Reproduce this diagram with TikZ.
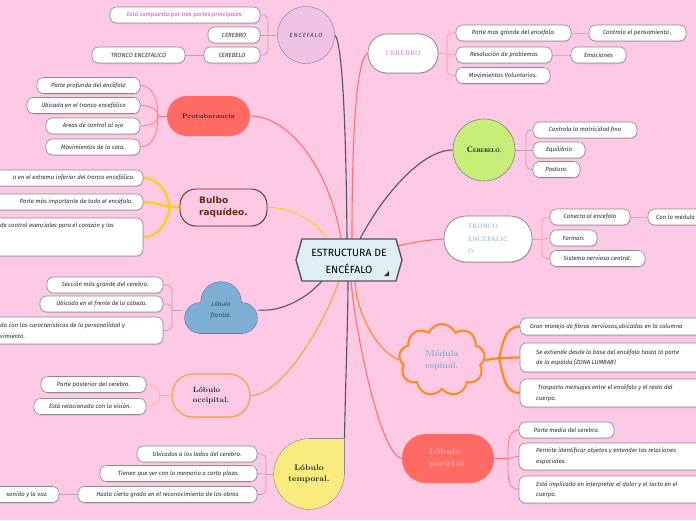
\documentclass[tikz,border=0pt]{standalone}
\usepackage{fontspec}
\usetikzlibrary{shapes.symbols,shadows,calc}
\newfontfamily\fira{Fira Sans}
\newfontfamily\libserif{Liberation Serif}
\newfontfamily\dejavu{DejaVu Sans}
\newcommand{\lfont}{\fira\itshape\fontsize{6}{10.5}\selectfont}
\definecolor{bg}{HTML}{FDC9E4}
\definecolor{leafgray}{HTML}{8E8A8C}
\definecolor{leaftext}{HTML}{2A2A2A}
\definecolor{encpurple}{HTML}{EEC3E6}
\definecolor{encmag}{HTML}{E33BC6}
\definecolor{grayline}{HTML}{BE9FB3}
\definecolor{darkline}{HTML}{555555}
\definecolor{coral}{HTML}{FF6B63}
\definecolor{coralline}{HTML}{FF7070}
\definecolor{lightcoral}{HTML}{FF9E9E}
\definecolor{yel}{HTML}{F8D11E}
\definecolor{orng}{HTML}{FF8A1C}
\definecolor{occorange}{HTML}{F8A233}
\definecolor{lightorange}{HTML}{FFB27A}
\definecolor{cbgreen}{HTML}{C8EE78}
\definecolor{bluefill}{HTML}{7DAFD5}
\definecolor{bluetext}{HTML}{7AAED6}
\definecolor{fronttext}{HTML}{2E4A60}
\definecolor{tempyellow}{HTML}{F9EB7D}
\definecolor{bulbbrown}{HTML}{5E2F10}
\definecolor{dkgreen}{HTML}{0D3B2A}
\definecolor{hubblue}{HTML}{DEEEF4}
\definecolor{hubgray}{HTML}{555555}
\definecolor{cerpurple}{HTML}{C879C8}
\definecolor{partext}{HTML}{F2A9A9}
\pgfdeclarelayer{back}
\pgfdeclarelayer{lines}
\pgfsetlayers{back,lines,main}
\begin{document}
\begin{tikzpicture}[x=1pt,y=-1pt,
  shad/.style={drop shadow={shadow xshift=0.4pt,shadow yshift=-1pt,opacity=0.25}},
  leaf/.style={draw=leafgray, fill=white, rounded corners=6.5pt, minimum height=16pt,
    inner xsep=4pt, inner ysep=0pt, font=\lfont, text=leaftext, line width=0.6pt, shad},
  ltext/.style={font=\lfont, text=leaftext, inner sep=0pt, align=left},
  encl/.style={draw=grayline, line width=0.7pt},
  corl/.style={draw=lightcoral, line width=0.8pt},
  protl/.style={draw=coralline, line width=0.7pt},
  yell/.style={draw=yel, line width=2.4pt},
  orl/.style={draw=orng, line width=2.2pt},
  occl/.style={draw=lightorange, line width=0.7pt},
  edge/.style={line width=1.1pt}
]
\begin{pgfonlayer}{back}
\fill[bg] (0,0) rectangle (696,520);
\end{pgfonlayer}
\useasboundingbox (0,0) rectangle (696,520);

% ---------- central node
\draw[fill=hubblue, draw=hubgray, line width=1.4pt, line join=round]
  (296,260) -- (302,239) -- (396,239) -- (402,260) -- (396,281) -- (302,281) -- cycle;
\node[minimum width=106pt, minimum height=42pt, align=center,
  font=\fira\fontsize{10.5}{17}\selectfont, text=black] (hub) at (349,261) {ESTRUCTURA DE\\ENCÉFALO};
\fill[black!80] (384,276) -- (389,276) -- (389,271) -- cycle;

\coordinate (hBul) at (327,239);
\coordinate (hPro) at (341,239);
\coordinate (hEnc) at (347,239);
\coordinate (hCer) at (352,239);
\coordinate (hCbl) at (360,239);
\coordinate (hTro) at (398,246);
\coordinate (hFro) at (322,281);
\coordinate (hOcc) at (339,281);
\coordinate (hTem) at (348,281);
\coordinate (hPar) at (351,281);
\coordinate (hMed) at (355,281);

% ---------- ENCEFALO
\node[circle, draw=gray, fill=encpurple, minimum size=57pt, inner sep=0pt,
  font=\fira\itshape\fontsize{6}{7}\selectfont\addfontfeatures{LetterSpace=15}, text=black!75] (enc) at (306,35) {ENCEFALO};
\node[leaf, minimum width=150pt, text=encmag] (e1) at (185,15) {Está compuesto por tres partes principales:};
\node[leaf, minimum width=52pt] (e2) at (234,35) {CEREBRO};
\node[leaf, minimum width=56pt] (e3) at (232,55) {CEREBELO};
\node[leaf, minimum width=93pt] (e4) at (138.5,55) {TRONCO ENCEFALICO};

% ---------- Protuberancia
\node[fill=coral, rounded corners=20pt, minimum width=83pt, minimum height=40pt,
  font=\bfseries\fontsize{6.5}{7}\selectfont, text=black!85] (prot) at (208.5,116) {Protuberancia};
\node[leaf, minimum width=103pt] (p1) at (88.5,85.5) {Parte profunda del encéfalo};
\node[leaf, minimum width=113pt] (p2) at (83.5,105.5) {Ubicada en el tronco encefálico};
\node[leaf, minimum width=94pt] (p3) at (93,126) {Areas de control al ojo};
\node[leaf, minimum width=94pt] (p4) at (93,147) {Movimientos de la cara.};

% ---------- Bulbo raquideo
\node[fill=bg, draw=bulbbrown, line width=0.9pt, rounded corners=16pt, minimum width=87pt, minimum height=37pt,
  font=\dejavu\bfseries\fontsize{9}{12}\selectfont, text=bulbbrown, align=left, shad] (bulbo) at (223.5,207.5) {Bulbo\\raquídeo.};
\node[leaf, minimum width=168pt] (b1) at (59,178) {};
\node[ltext, anchor=east] (b1t) at (135,178) {a en el extremo inferior del tronco encefálico.};
\node[leaf, minimum width=153pt] (b2) at (66.5,202) {};
\node[ltext, anchor=east] (b2t) at (133,202) {Parte más importante de todo el encéfalo.};
\node[leaf, minimum width=168pt, minimum height=38pt] (b3) at (59,237) {};
\node[ltext, anchor=west] (b3t) at (0,226) {de control esenciales para el corazón y los};

% ---------- Lobulo frontal (cloud)
\begin{scope}[draw=leafgray!80!blue, line width=1.2pt]
  \draw (200,318) circle[radius=15pt];
  \draw (221,302) circle[radius=20pt];
  \draw (242,318) circle[radius=15pt];
  \draw (200,310) rectangle (242,333);
\end{scope}
\begin{scope}[fill=bluefill]
  \fill (200,318) circle[radius=15pt];
  \fill (221,302) circle[radius=20pt];
  \fill (242,318) circle[radius=15pt];
  \fill (200,310) rectangle (242,333);
\end{scope}
\node[minimum width=75pt, minimum height=51pt, align=center,
  font=\fira\itshape\fontsize{6.3}{11.5}\selectfont, text=fronttext] (front) at (221,310) {Lóbulo\\frontal.};
\node[leaf, minimum width=116pt] (f1) at (105,285) {Sección más grande del cerebro.};
\node[leaf, minimum width=123pt] (f2) at (101.5,304) {Ubicada en el frente de la cabeza.};
\node[leaf, minimum width=188pt, minimum height=27pt] (f3) at (69,330.5) {};
\node[ltext, anchor=west] (f3t) at (0,330.5) {da con las características de la personalidad y\\vimiento.};

% ---------- Lobulo occipital
\node[fill=bg, draw=occorange, line width=1.1pt, rounded corners=21pt, minimum width=78pt, minimum height=43pt,
  font=\bfseries\fontsize{7.5}{10}\selectfont, text=dkgreen, align=left, shad] (occ) at (211,395.5) {Lóbulo\\occipital.};
\node[leaf, minimum width=105pt] (o1) at (93.5,384.5) {Parte posterior del cerebro.};
\node[leaf, minimum width=112pt] (o2) at (90,406.5) {Está relacionado con la visión.};

% ---------- Lobulo temporal (drop)
\begin{scope}[draw=leafgray, line width=1.1pt]
  \draw (309,474) circle[radius=35pt];
  \draw (309,439) rectangle (344,474);
\end{scope}
\begin{scope}[fill=tempyellow]
  \fill (309,474) circle[radius=35pt];
  \fill (309,439) rectangle (344,474);
\end{scope}
\node[circle, minimum size=70pt, inner sep=0pt, align=center,
  font=\bfseries\fontsize{8}{11}\selectfont, text=black!85] (temp) at (309,474) {Lóbulo\\temporal.};
\coordinate (tcorner) at (344.5,439);
\node[leaf, minimum width=120pt] (t1) at (197,454) {Ubicados a los lados del cerebro.};
\node[leaf, minimum width=157pt] (t2) at (178.5,473.5) {Tienen que ver con la memoria a corto plazo.};
\node[leaf, minimum width=179pt] (t3) at (167.5,494.5) {Hasta cierto grado en el reconocimiento de los obras};
\node[leaf, minimum width=84pt] (t4) at (17,494.5) {};
\node[ltext, anchor=east] (t4t) at (48,494.5) {sonido y la voz.};

% ---------- CEREBRO
\node[fill=white, draw=gray, line width=0.7pt, rounded corners=19pt, minimum width=70pt, minimum height=39pt,
  font=\libserif\fontsize{6.8}{7}\selectfont\addfontfeatures{LetterSpace=8}, text=cerpurple, shad] (cer) at (403,53.5) {CEREBRO};
\node[leaf, minimum width=115pt] (c1) at (513.5,33) {Parte mas grande del encefalo.};
\node[leaf, minimum width=97pt] (c1b) at (637.5,33) {Controla el pensamiento ,};
\node[leaf, minimum width=96pt] (c2) at (504,55) {Resolución de problemas};
\node[leaf, minimum width=55pt] (c2b) at (598.5,55) {Emociones};
\node[leaf, minimum width=94pt] (c3) at (503,75.5) {Movimientos Voluntarios.};

% ---------- Cerebelo
\node[circle, fill=cbgreen, draw=gray, line width=0.6pt, minimum size=62pt, inner sep=0pt, text=black!85]
  (cbl) at (484,150) {\libserif\bfseries\fontsize{8.5}{9}\selectfont C\fontsize{5.5}{6}\selectfont EREBELO.};
\node[leaf, minimum width=104pt] (g1) at (585,130) {Controla la motricidad fina};
\node[leaf, minimum width=52pt] (g2) at (559,150) {Equilibrio};
\node[leaf, minimum width=47pt] (g3) at (556.5,169.5) {Postura.};

% ---------- Tronco encefalico
\node[fill=white, draw=gray, line width=0.7pt, rounded corners=22pt, minimum width=88pt, minimum height=46pt,
  font=\libserif\fontsize{6.8}{12.5}\selectfont\addfontfeatures{LetterSpace=5}, text=bluetext, align=left, shad] (tronco) at (488,239) {TRONCO\\ENCEFALIC\\O};
\node[leaf, minimum width=80pt] (r1) at (590,217) {Conecta al encefalo};
\node[leaf, minimum width=82pt] (r1b) at (689,217) {};
\node[ltext, anchor=west] (r1bt) at (656,217) {Con la médula};
\node[leaf, minimum width=47pt] (r2) at (573.5,238) {Forman:};
\node[leaf, minimum width=95pt] (r3) at (597.5,258.5) {Sistema nervioso central.};

% ---------- Medula espinal
\node[cloud, cloud puffs=9, cloud puff arc=135, aspect=1.2, draw=orng, line width=2pt, fill=bg,
  minimum width=86pt, minimum height=72pt, inner sep=0pt, align=left,
  font=\bfseries\fontsize{8.5}{12}\selectfont, text=bluetext] (med) at (442,360) {Médula\\espinal.};
\node[leaf, minimum width=210pt, minimum height=17pt] (m1) at (625,326.5) {};
\node[ltext, anchor=west] (m1t) at (530,326.5) {Gran manejo de fibras nerviosas,ubicadas en la columna};
\node[leaf, minimum width=210pt, minimum height=29pt] (m2) at (625,357.5) {};
\node[ltext, anchor=west] (m2t) at (536,357.5) {Se extiende desde la base del encéfalo hasta la parte\\de la espalda.(ZONA LUMBAR)};
\node[leaf, minimum width=210pt, minimum height=28pt] (m3) at (625,393) {};
\node[ltext, anchor=west] (m3t) at (536,393) {\ Trasporta mensajes entre el encéfalo y el resto del\\cuerpo.};

% ---------- Lobulo parietal
\node[fill=coral, rounded corners=24pt, minimum width=92pt, minimum height=49pt, align=left,
  font=\bfseries\fontsize{8.8}{12}\selectfont, text=partext] (par) at (448,458.5) {Lóbulo\\parietal.};
\node[leaf, minimum width=95pt] (l1) at (566.5,430) {Parte media del cerebro.};
\node[leaf, minimum width=211pt, minimum height=27pt] (l2) at (624.5,456.5) {};
\node[ltext, anchor=west] (l2t) at (536,456.5) {Permite identificar objetos y entender las relaciones\\espaciales.};
\node[leaf, minimum width=211pt, minimum height=27pt] (l3) at (624.5,489.5) {};
\node[ltext, anchor=west] (l3t) at (536,489.5) {Está implicado en interpretar el dolor y el tacto en el\\cuerpo.};

% ================= connectors
\begin{pgfonlayer}{lines}
\draw[edge, darkline] (enc.east) .. controls (342,40) and (346,120) .. (hEnc);
\draw[edge, coralline] (cer.west) .. controls (355,60) and (352,150) .. (hCer);
\draw[edge, coralline] (prot.east) .. controls (290,116) and (330,170) .. (hPro);
\draw[edge, yel] (bulbo.east) .. controls (290,207) and (315,220) .. (hBul);
\draw[edge, darkline] (cbl.west) .. controls (420,150) and (380,200) .. (hCbl);
\draw[edge, coralline] (tronco.west) .. controls (425,240) and (410,243) .. (hTro);
\draw[edge, darkline] (front.east) .. controls (280,312) and (305,300) .. (hFro);
\draw[edge, occorange] (occ.east) .. controls (280,396) and (322,330) .. (hOcc);
\draw[edge, darkline] (tcorner) .. controls (345,400) and (348,320) .. (hTem);
\draw[edge, coralline] (par.west) .. controls (380,455) and (355,330) .. (hPar);
\draw[edge, orng] (med.west) .. controls (375,350) and (356,310) .. (hMed);

\coordinate (ej) at (268,35);
\draw[encl] (enc.west) -- (ej);
\draw[encl, rounded corners=5pt] (ej) |- (e1.east);
\draw[encl] (ej) -- (e2.east);
\draw[encl, rounded corners=5pt] (ej) |- (e3.east);
\draw[encl] (e3.west) -- (e4.east);

\coordinate (pj) at (158,116);
\draw[protl] (prot.west) -- (pj);
\draw[protl] (pj) to[out=90,in=0] (p1.east);
\draw[protl] (pj) to[out=90,in=0] (p2.east);
\draw[protl] (pj) to[out=-90,in=0] (p3.east);
\draw[protl] (pj) to[out=-90,in=0] (p4.east);

\coordinate (bj) at (170,207);
\draw[yell] (bulbo.west) -- (bj);
\draw[yell] (bj) to[out=100,in=0] (b1.east);
\draw[yell] (bj) to[out=170,in=0] (b2.east);
\draw[yell] (bj) to[out=-100,in=0] (b3.east);

\coordinate (fj) at (172,310);
\draw[encl] (front.west) -- (fj);
\draw[encl, rounded corners=5pt] (fj) |- (f1.east);
\draw[encl, rounded corners=5pt] (fj) |- (f2.east);
\draw[encl, rounded corners=5pt] (fj) |- (f3.east);

\coordinate (oj) at (160,395.5);
\draw[occl] (occ.west) -- (oj);
\draw[occl] (oj) to[out=90,in=0] (o1.east);
\draw[occl] (oj) to[out=-90,in=0] (o2.east);

\coordinate (tj) at (266,474);
\draw[encl] (temp.west) -- (tj);
\draw[encl, rounded corners=5pt] (tj) |- (t1.east);
\draw[encl] (tj) -- (t2.east);
\draw[encl, rounded corners=5pt] (tj) |- (t3.east);
\draw[encl] (t3.west) -- (t4.east);

\coordinate (cj) at (447,54);
\draw[corl] (cer.east) -- (cj);
\draw[corl, rounded corners=5pt] (cj) |- (c1.west);
\draw[corl] (cj) -- (c2.west);
\draw[corl, rounded corners=5pt] (cj) |- (c3.west);
\draw[corl] (c1.east) -- (c1b.west);
\draw[corl] (c2.east) -- (c2b.west);

\coordinate (gj) at (526,150);
\draw[encl] (cbl.east) -- (gj);
\draw[encl, rounded corners=5pt] (gj) |- (g1.west);
\draw[encl] (gj) -- (g2.west);
\draw[encl, rounded corners=5pt] (gj) |- (g3.west);

\coordinate (rj) at (542,239);
\draw[corl] (tronco.east) -- (rj);
\draw[corl, rounded corners=5pt] (rj) |- (r1.west);
\draw[corl] (rj) -- (r2.west);
\draw[corl, rounded corners=5pt] (rj) |- (r3.west);
\draw[corl] (r1.east) -- (r1b.west);

\coordinate (mj) at (499,358);
\draw[orl] (med.east) -- (mj);
\draw[orl] (mj) to[out=75,in=180] (m1.west);
\draw[orl] (mj) to[out=0,in=180] (m2.west);
\draw[orl] (mj) to[out=-75,in=180] (m3.west);

\coordinate (lj) at (508,458.5);
\draw[protl] (par.east) -- (lj);
\draw[protl] (lj) to[out=90,in=180] (l1.west);
\draw[protl] (lj) to[out=10,in=180] (l2.west);
\draw[protl] (lj) to[out=-90,in=180] (l3.west);
\end{pgfonlayer}
\end{tikzpicture}
\end{document}
